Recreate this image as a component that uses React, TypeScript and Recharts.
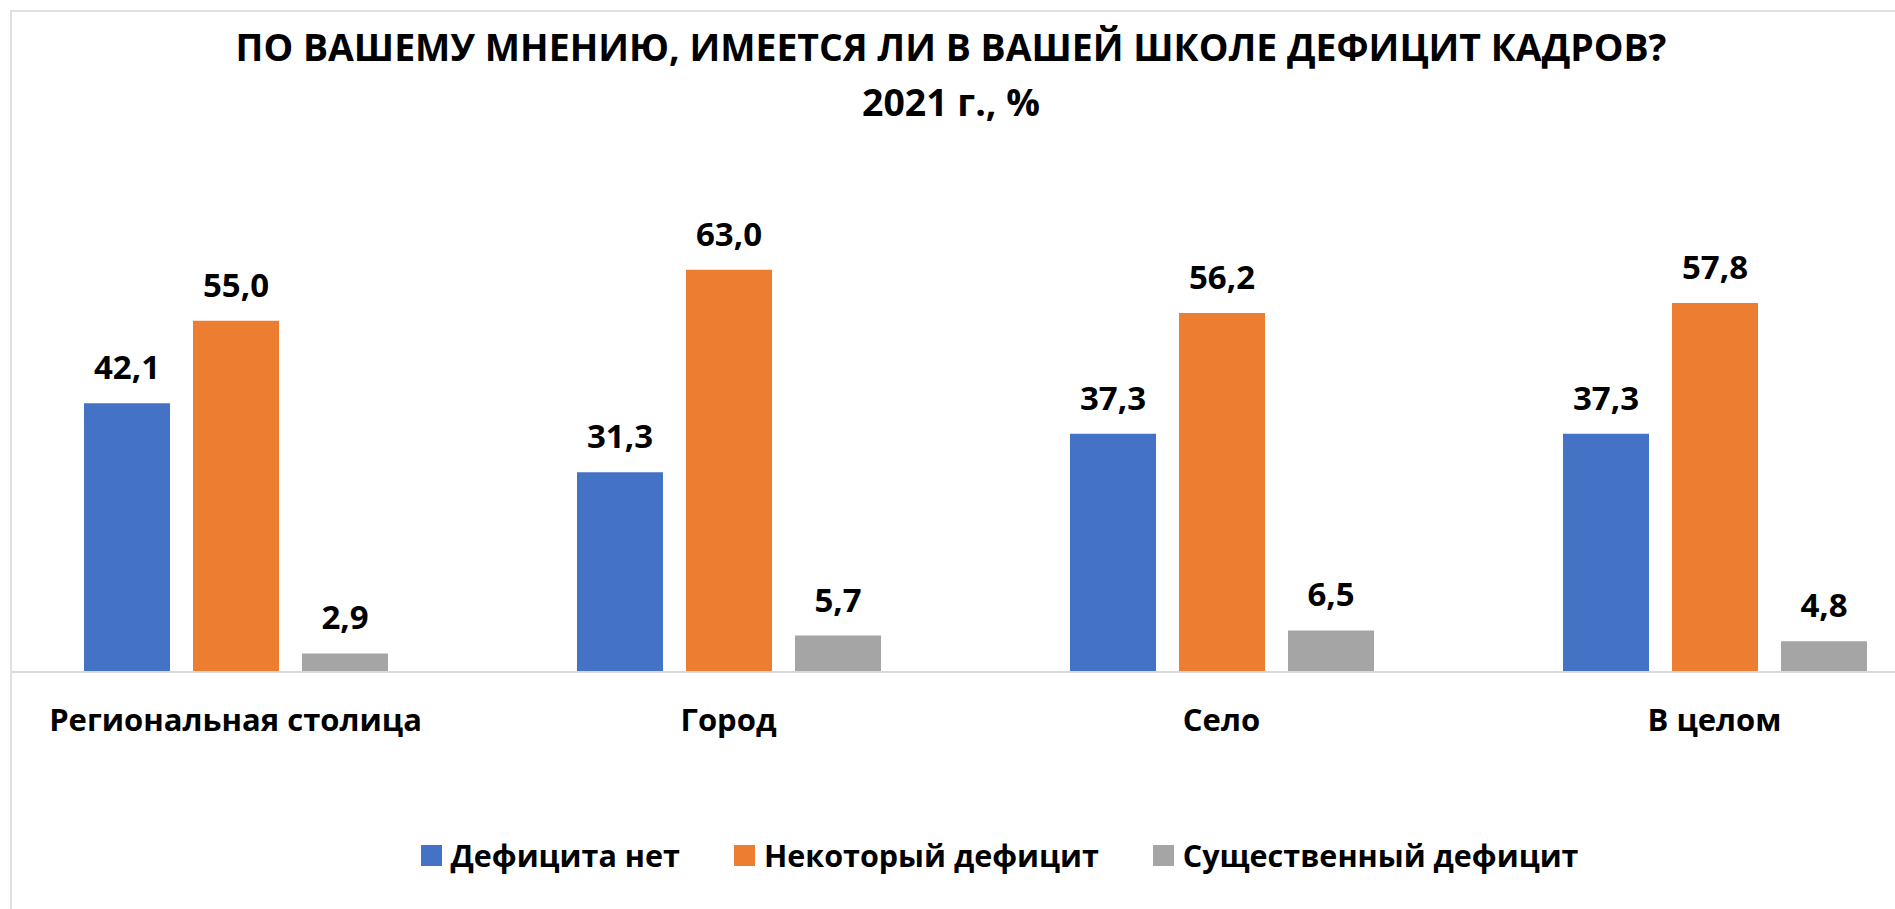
import React from "react";
import { BarChart, Bar, XAxis, YAxis, LabelList, Legend } from "recharts";

const categories = ["Региональная столица", "Город", "Село", "В целом"];
const noDeficit = [42.1, 31.3, 37.3, 37.3];
const someDeficit = [55.0, 63.0, 56.2, 57.8];
const bigDeficit = [2.9, 5.7, 6.5, 4.8];

const seriesNames = ["Дефицита нет", "Некоторый дефицит", "Существенный дефицит"];
const seriesColors = ["#4472C4", "#ED7D31", "#A5A5A5"];

const data = categories.map((name, i) => ({
  name,
  none: noDeficit[i],
  some: someDeficit[i],
  big: bigDeficit[i],
}));

const FONT = "'Open Sans', 'DejaVu Sans', sans-serif";

const fmt = (v: any) => Number(v).toFixed(1).replace(".", ",");

function LegendContent() {
  return (
    <div
      style={{
        display: "flex",
        justifyContent: "center",
        alignItems: "center",
        height: 40,
        paddingLeft: 49,
        fontFamily: FONT,
        fontWeight: 700,
        fontSize: 30.5,
        color: "#000",
      }}
    >
      {seriesNames.map((n, i) => (
        <div
          key={n}
          style={{ display: "flex", alignItems: "center", marginRight: i < 2 ? 54 : 0 }}
        >
          <span
            style={{
              width: 21,
              height: 21,
              background: seriesColors[i],
              display: "inline-block",
              marginRight: 9,
            }}
          />
          <span>{n}</span>
        </div>
      ))}
    </div>
  );
}

export default function App() {
  const keys = ["none", "some", "big"];
  return (
    <div
      style={{
        width: 1895,
        height: 909,
        position: "relative",
        overflow: "hidden",
        background: "#fff",
      }}
    >
      <style>{"body{margin:0}"}</style>
      <div
        style={{
          position: "absolute",
          left: 10,
          top: 10,
          right: -10,
          bottom: -10,
          borderLeft: "2px solid #e0e0e0",
          borderTop: "2px solid #e0e0e0",
          overflow: "hidden",
        }}
      >
        <div
          style={{
            position: "absolute",
            left: 0,
            top: 7,
            width: 1878,
            textAlign: "center",
            fontFamily: FONT,
            fontWeight: 700,
            fontSize: 37.4,
            lineHeight: "55px",
            color: "#000",
          }}
        >
          <div>ПО ВАШЕМУ МНЕНИЮ, ИМЕЕТСЯ ЛИ В ВАШЕЙ ШКОЛЕ ДЕФИЦИТ КАДРОВ?</div>
          <div>2021 г., %</div>
        </div>
        <div style={{ position: "absolute", left: -23, top: 153 }}>
          <BarChart
            width={1972}
            height={744}
            data={data}
            margin={{ top: 60, right: 0, left: 0, bottom: 34 }}
            barSize={86}
            barGap={23}
          >
            <XAxis
              dataKey="name"
              height={163}
              tickLine={false}
              tickSize={0}
              tickMargin={37}
              axisLine={{ stroke: "#d9d9d9", strokeWidth: 2 }}
              tick={{ fill: "#000", fontSize: 31, fontWeight: 700, fontFamily: FONT }}
              interval={0}
            />
            <YAxis hide domain={[0, 70]} />
            <Legend verticalAlign="bottom" content={<LegendContent />} />
            {keys.map((k, i) => (
              <Bar
                key={k}
                dataKey={k}
                name={seriesNames[i]}
                fill={seriesColors[i]}
                isAnimationActive={false}
              >
                <LabelList
                  dataKey={k}
                  position="top"
                  offset={24}
                  formatter={fmt}
                  style={{ fill: "#000", fontSize: 33, fontWeight: 700, fontFamily: FONT }}
                />
              </Bar>
            ))}
          </BarChart>
        </div>
      </div>
    </div>
  );
}
